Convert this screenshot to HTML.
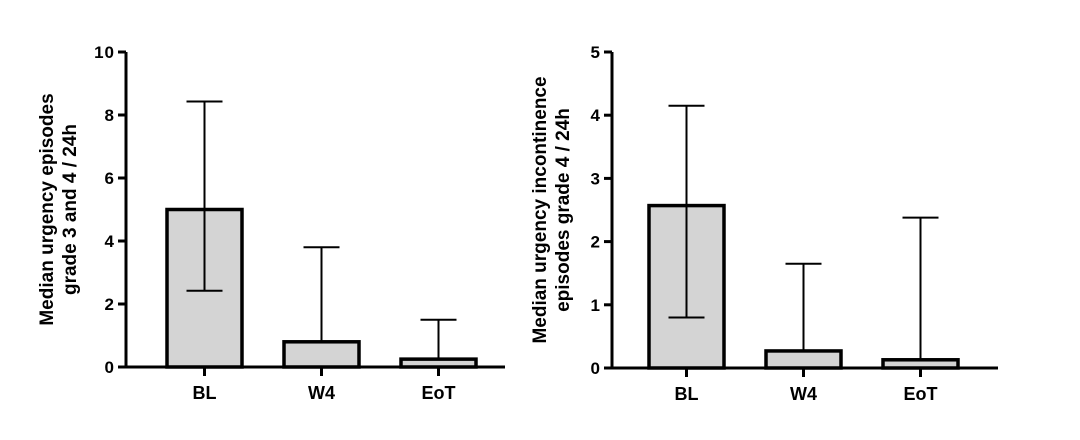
<!DOCTYPE html>
<html><head><meta charset="utf-8"><style>
body{margin:0;background:#fff;}
svg{display:block;}
svg text{font-family:"Liberation Sans",Arial,sans-serif;font-weight:700;}
</style></head><body>
<svg id="c" width="1080" height="440" viewBox="0 0 1080 440"></svg>
<script>
const categories=["BL","W4","EoT"];
const leftValues=[5,0.8,0.25];
const leftLow=[2.42,0.8,0.25];
const leftHigh=[8.43,3.8,1.5];
const leftTicks=[0,2,4,6,8,10];
const rightValues=[2.57,0.27,0.13];
const rightLow=[0.8,0.27,0.13];
const rightHigh=[4.15,1.65,2.38];
const rightTicks=[0,1,2,3,4,5];
const NS="http://www.w3.org/2000/svg";
const svg=document.getElementById('c');
function mk(tag,attrs,parent){const e=document.createElementNS(NS,tag);for(const k in attrs)e.setAttribute(k,attrs[k]);(parent||svg).appendChild(e);return e;}
function panel(o){
  const g=mk('g',{});
  
  
  const ymax=o.ticks[o.ticks.length-1];
  const y=v=>o.y0-(v/ymax)*(o.y0-o.y1);
  const x=i=>o.firstCenter+i*o.step;
  o.values.forEach((v,i)=>{
    const r=mk('rect',{x:x(i)-37.5,y:y(v),width:75,height:o.y0-y(v),fill:'#d4d4d4',stroke:'#000','stroke-width':3.5},g);
    
    
    const eg=mk('g',{stroke:'#000','stroke-width':2,fill:'none'},g);
    
    
    mk('line',{x1:x(i),x2:x(i),y1:y(o.low[i]),y2:y(o.high[i])},eg);
    mk('line',{x1:x(i)-18,x2:x(i)+18,y1:y(o.high[i]),y2:y(o.high[i])},eg);
    if(o.low[i]<v-0.01) mk('line',{x1:x(i)-18,x2:x(i)+18,y1:y(o.low[i]),y2:y(o.low[i])},eg);
    const t=mk('text',{x:x(i),y:o.y0+32,'text-anchor':'middle','font-size':18,'font-weight':'bold'},g);
    t.textContent=categories[i];
    
    
    mk('line',{x1:x(i),x2:x(i),y1:o.y0,y2:o.y0+9,stroke:'#000','stroke-width':3},g);
  });
  const ax=mk('path',{d:`M${o.ax} ${o.y1} V${o.y0} H${o.xEnd}`,stroke:'#000','stroke-width':3,fill:'none'},g);
  
  
  o.ticks.forEach(t=>{
    mk('line',{x1:o.ax-8,x2:o.ax,y1:y(t),y2:y(t),stroke:'#000','stroke-width':3},g);
    const tx=mk('text',{x:o.ax-11,y:y(t)+6,'text-anchor':'end','font-size':17,'font-weight':'bold','letter-spacing':1},g);
    tx.textContent=t;
    
    
  });
  const tt=mk('text',{transform:`translate(${o.titleX},${(o.y0+o.y1)/2}) rotate(-90)`,'text-anchor':'middle','font-size':19,'font-weight':'bold'},g);
  
  
  o.title.forEach((l,k)=>{const s=mk('tspan',{x:0,dy:k?23:0},tt);s.textContent=l;});
}
panel({name:'left-chart',ax:126,y0:367,y1:52,xEnd:505,firstCenter:204.5,step:117,values:leftValues,low:leftLow,high:leftHigh,ticks:leftTicks,titleX:53,title:['Median urgency episodes','grade 3 and 4 / 24h']});
panel({name:'right-chart',ax:612,y0:368,y1:52,xEnd:998,firstCenter:686.5,step:117,values:rightValues,low:rightLow,high:rightHigh,ticks:rightTicks,titleX:546,title:['Median urgency incontinence','episodes grade 4 / 24h']});
</script>
</body></html>
